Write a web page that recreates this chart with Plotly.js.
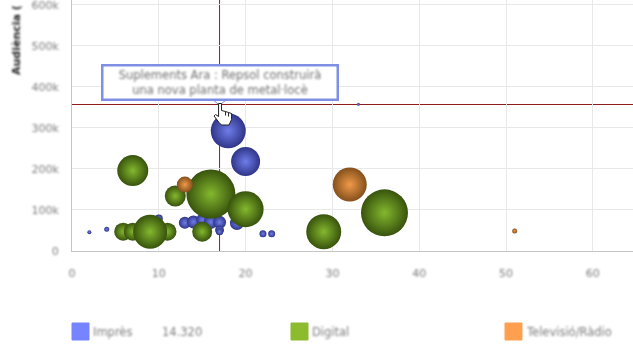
<!DOCTYPE html>
<html><head><meta charset="utf-8">
<script src="https://cdn.plot.ly/plotly-3.0.1.min.js"></script>
<style>
html,body{margin:0;padding:0;background:#fff;overflow:hidden}
#c{width:633px;height:356px}
#c .xtick text,#c .ytick text,#c .annotation-text{filter:url(#soft)}
</style></head><body>
<svg width="0" height="0" style="position:absolute"><defs><filter id="soft" x="-10%" y="-40%" width="120%" height="180%"><feGaussianBlur stdDeviation="0.9"/></filter></defs></svg>
<div id="c"></div>
<script>
var impresX=[18,20,33,2,4,10,13,14,15,16,17,19,17,17,22,23];
var impresY=[293000,218000,358000,46000,53000,79000,69000,71000,76000,71000,70000,68000,51000,47000,42000,42000];
var impresB=[35,29,3,4,5,8,12,13,12,14,13,14,9,7,7,7];
var digitalX=[7,5.9,7,11,9,11.9,16,20,15,29,36];
var digitalY=[196000,47000,47000,47000,47000,134000,139000,102000,47000,47000,93000];
var digitalB=[31,18,18,18,34,21,49,36,20,35,47];
var tvX=[13,32,51];
var tvY=[162000,162000,49000];
var tvB=[16,34,5];
var xTicks=[0,10,20,30,40,50,60];
var yTicks=[0,100000,200000,300000,400000,500000,600000];
var yLabels=['0','100k','200k','300k','400k','500k','600k'];
var seriesNames=['Imprès','Digital','Televisió/Ràdio'];
var tooltipText='Suplements Ara : Repsol construirà<br>una nova planta de metal·locè';
var crossX=17, crossY=357200;

function bubbles(name,x,y,b,c,centre){
  return {type:'scatter',mode:'markers',name:name,x:x,y:y,hoverinfo:'skip',
    marker:{size:b,sizemode:'diameter',color:c,opacity:1,line:{width:0},
      gradient:{type:'radial',color:centre}}};
}
var traces=[
  bubbles(seriesNames[0],impresX,impresY,impresB,'#2f3588','#6f7dea'),
  bubbles(seriesNames[1],digitalX,digitalY,digitalB,'#38530d','#84b82e'),
  bubbles(seriesNames[2],tvX,tvY,tvB,'#84501c','#f09a48')
];
var gray='#7c7c7c';
var blue='#7f8fe6';
var shapes=[
  {type:'line',xref:'x',yref:'paper',x0:crossX,x1:crossX,y0:0,y1:1,layer:'between',line:{color:'#9a1c1c',width:1}},
  {type:'line',xref:'paper',yref:'y',x0:0,x1:1,y0:crossY,y1:crossY,layer:'between',line:{color:'#8f1c1c',width:1}},
  {type:'path',xref:'x',yref:'y',xsizemode:'pixel',ysizemode:'pixel',xanchor:crossX,yanchor:crossY,layer:'above',
   path:'M-6,4 L0,-0.5 L6,4 Z',fillcolor:'#ffffff',line:{color:blue,width:1}},
  {type:'path',xref:'x',yref:'y',xsizemode:'pixel',ysizemode:'pixel',xanchor:crossX,yanchor:crossY,layer:'above',
   path:'M-1,1 L2,1 L2,-6 L6,-7 L9,-8 L12,-9 L12,-15 L9.5,-20.5 L2,-20.5 L-0.5,-18 L-5.5,-11.5 L-4,-10 L-1,-12 Z M6,-7 L6,-11 M9,-8 L9,-12',
   fillcolor:'#ffffff',line:{color:'#222222',width:1}}
];
var swatches=[[72,'#7784ff'],[291,'#8cbb2e'],[505,'#ff9f50']];
swatches.forEach(function(s){
  shapes.push({type:'rect',xref:'paper',yref:'paper',layer:'above',
    x0:(s[0]-72)/561,x1:(s[0]+17-72)/561,y0:(251-340)/251,y1:(251-323)/251,
    fillcolor:s[1],line:{color:s[1],width:1}});
});
function legendText(t,px){
  return {xref:'paper',yref:'paper',x:(px-72)/561,y:(251-332)/251,xanchor:'left',yanchor:'middle',
    showarrow:false,text:t,font:{family:'DejaVu Sans',size:11.5,color:gray}};
}
var annotations=[
  {xref:'x',yref:'y',x:crossX,y:crossY,xanchor:'center',yanchor:'bottom',yshift:3.5,showarrow:false,
   text:tooltipText,align:'center',width:231,height:30,bgcolor:'#ffffff',bordercolor:blue,borderwidth:2.5,borderpad:1,
   font:{family:'DejaVu Sans',size:11.5,color:'#707070'}},
  {xref:'paper',yref:'paper',x:(17-72)/561,y:(251-77)/251,xanchor:'center',yanchor:'bottom',textangle:-90,showarrow:false,
   text:'<b>Audiència (</b>',font:{family:'DejaVu Sans',size:11,color:'#222222'}},
  legendText(seriesNames[0],91),
  legendText('14.320',160),
  legendText(seriesNames[1],310),
  legendText(seriesNames[2],524)
];
var tf={family:'DejaVu Sans',size:11,color:gray};
var layout={
  width:633,height:356,margin:{l:72,r:0,t:0,b:105},showlegend:false,
  paper_bgcolor:'#ffffff',plot_bgcolor:'#ffffff',hovermode:false,
  xaxis:{range:[0,64.63],tickvals:xTicks,ticktext:xTicks.map(String),showgrid:true,gridcolor:'#e8e8e8',gridwidth:1,
    zeroline:false,showline:true,linecolor:'#c4c4c4',linewidth:1,ticks:'outside',ticklen:12,tickcolor:'#ffffff',tickfont:tf},
  yaxis:{range:[0,612000],tickvals:yTicks,ticktext:yLabels,showgrid:true,gridcolor:'#e8e8e8',gridwidth:1,
    zeroline:false,showline:true,linecolor:'#c4c4c4',linewidth:1,ticks:'outside',ticklen:10,tickcolor:'#ffffff',tickfont:tf,
    ticklabeloverflow:'allow'},
  shapes:shapes,annotations:annotations
};
Plotly.newPlot('c',traces,layout,{displayModeBar:false,staticPlot:true});
</script></body></html>
